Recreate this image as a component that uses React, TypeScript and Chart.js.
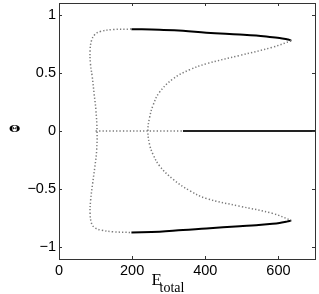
import { useEffect, useRef } from "react";
import { Chart, registerables } from "chart.js";

Chart.register(...registerables);

// Axis ticks
const xTicks = [0, 200, 400, 600];
const yTicks = [-1, -0.5, 0, 0.5, 1];
const yTickLabels = ["\u22121", "\u22120.5", "0", "0.5", "1"];

// Outer unstable (dotted) branch, from upper end to lower end
const outerE = [198, 148, 113, 98, 89, 85, 86, 91, 96, 101, 104, 103, 98, 92, 86.5, 85, 89, 98, 116, 148, 198];
const outerTheta = [0.876, 0.872, 0.855, 0.829, 0.778, 0.692, 0.578, 0.463, 0.32, 0.178, 0.0, -0.166, -0.309, -0.451, -0.594, -0.708, -0.794, -0.832, -0.852, -0.866, -0.872];

// Inner unstable (dotted) branch, from upper fold to lower fold
const innerE = [635, 584, 494, 403, 357, 312, 275, 257, 248, 243, 248, 257, 275, 312, 357, 403, 494, 584, 635];
const innerTheta = [0.775, 0.72, 0.649, 0.578, 0.526, 0.449, 0.334, 0.22, 0.12, 0, -0.12, -0.2, -0.3, -0.415, -0.512, -0.58, -0.646, -0.708, -0.768];

// Stable (solid) upper and lower branches
const stableE = [198, 275, 339, 403, 494, 539, 584, 603, 621, 630, 635];
const upperTheta = [0.875, 0.870, 0.862, 0.845, 0.830, 0.821, 0.806, 0.800, 0.790, 0.783, 0.775];
const lowerTheta = [-0.872, -0.866, -0.850, -0.838, -0.818, -0.809, -0.797, -0.790, -0.780, -0.774, -0.768];

// Trivial branch Θ = 0
const zeroDottedE = [100, 339];
const zeroSolidE = [339, 700];
const zeroTheta = [0, 0];

const pts = (xs: number[], ys: number[]) => xs.map((x, i) => ({ x, y: ys[i] }));

const framePlugin = {
  id: "framePlugin",
  afterDraw(chart: any) {
    const { ctx, chartArea: a, scales } = chart;
    ctx.save();
    ctx.strokeStyle = "#333";
    ctx.lineWidth = 1;
    ctx.strokeRect(a.left + 0.5, a.top + 0.5, a.right - a.left, a.bottom - a.top);
    ctx.beginPath();
    for (const v of xTicks) {
      const px = Math.round(scales.x.getPixelForValue(v)) + 0.5;
      ctx.moveTo(px, a.bottom);
      ctx.lineTo(px, a.bottom - 3);
      ctx.moveTo(px, a.top);
      ctx.lineTo(px, a.top + 3);
    }
    for (const v of yTicks) {
      const py = Math.round(scales.y.getPixelForValue(v)) + 0.5;
      ctx.moveTo(a.left, py);
      ctx.lineTo(a.left + 3, py);
      ctx.moveTo(a.right, py);
      ctx.lineTo(a.right - 3, py);
    }
    ctx.stroke();

    // x title: E_total
    ctx.fillStyle = "#000";
    ctx.textBaseline = "alphabetic";
    ctx.textAlign = "left";
    ctx.font = '17px "Liberation Serif"';
    ctx.fillText("E", 151.5, 285);
    ctx.font = '14px "Liberation Serif"';
    ctx.fillText("total", 159.5, 292);

    // y title: Θ
    ctx.translate(14.7, 130);
    ctx.scale(1.3, 0.85);
    ctx.font = 'bold 10px "DejaVu Serif"';
    ctx.textAlign = "center";
    ctx.textBaseline = "middle";
    ctx.fillText("\u0398", 0, 0);
    ctx.restore();
  },
};

export default function App() {
  const ref = useRef<HTMLCanvasElement | null>(null);

  useEffect(() => {
    document.body.style.margin = "0";
    const canvas = ref.current;
    if (!canvas) return;
    const dotted = {
      borderColor: "#7a7a7a",
      borderWidth: 1.5,
      borderDash: [1.3, 2.1],
      pointRadius: 0,
      showLine: true,
      tension: 0.4,
      fill: false,
    };
    const solid = {
      borderColor: "#000",
      borderWidth: 2,
      pointRadius: 0,
      showLine: true,
      tension: 0.4,
      fill: false,
    };
    const chart = new Chart(canvas, {
      type: "scatter",
      data: {
        datasets: [
          { ...dotted, data: pts(outerE, outerTheta) },
          { ...dotted, data: pts(innerE, innerTheta) },
          { ...dotted, data: pts(zeroDottedE, zeroTheta) },
          { ...solid, data: pts(stableE, upperTheta) },
          { ...solid, data: pts(stableE, lowerTheta) },
          { ...solid, borderColor: "#222", data: pts(zeroSolidE, zeroTheta) },
        ],
      },
      options: {
        responsive: false,
        animation: false,
        layout: { padding: { left: 0, top: 3, right: 4, bottom: 0 } },
        plugins: { legend: { display: false }, tooltip: { enabled: false } },
        scales: {
          x: {
            type: "linear",
            min: 0,
            max: 700,
            grid: { display: false, drawTicks: false },
            border: { display: false },
            afterBuildTicks: (s: any) => {
              s.ticks = xTicks.map((v) => ({ value: v }));
            },
            afterFit: (s: any) => {
              s.height = 35;
              s.paddingLeft = 0;
              s.paddingRight = 0;
            },
            ticks: {
              padding: 3,
              color: "#000",
              font: { family: '"Liberation Sans"', size: 14.5 },
              callback: (v: any) => String(v),
            },
          },
          y: {
            type: "linear",
            min: -1.1,
            max: 1.1,
            grid: { display: false, drawTicks: false },
            border: { display: false },
            afterBuildTicks: (s: any) => {
              s.ticks = yTicks.map((v) => ({ value: v }));
            },
            afterFit: (s: any) => {
              s.width = 59;
              s.paddingTop = 0;
              s.paddingBottom = 0;
            },
            ticks: {
              padding: 3,
              color: "#000",
              font: { family: '"Liberation Sans"', size: 14.5 },
              callback: (v: any) => {
                const i = yTicks.indexOf(Number(v));
                return i >= 0 ? yTickLabels[i] : "";
              },
            },
          },
        },
      },
      plugins: [framePlugin],
    });
    return () => chart.destroy();
  }, []);

  return (
    <div style={{ width: 319, height: 294 }}>
      <canvas ref={ref} width={319} height={294} style={{ display: "block" }} />
    </div>
  );
}
